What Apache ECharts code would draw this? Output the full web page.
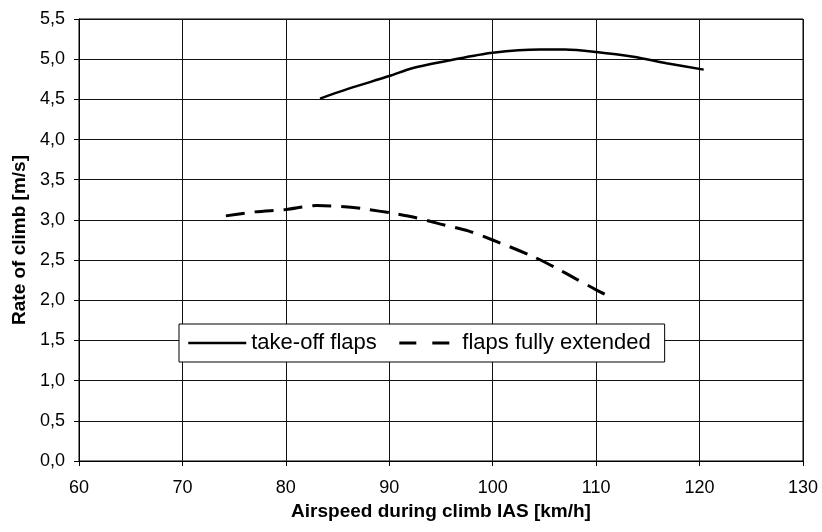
<!DOCTYPE html>
<html>
<head>
<meta charset="utf-8">
<script src="https://cdn.jsdelivr.net/npm/echarts@6/dist/echarts.min.js"></script>
<style>
  html, body { margin: 0; padding: 0; background: #fff; }
  #chart { width: 822px; height: 532px; }
</style>
</head>
<body>
<div id="chart"></div>
<script>
// airspeed [km/h] and rate of climb [m/s]
const takeoffSpeed = [83.3, 86, 90, 92.3, 96, 100, 104.6, 107, 110, 113.6, 116.8, 120.4];
const takeoffClimb = [4.51, 4.63, 4.79, 4.89, 4.99, 5.08, 5.12, 5.12, 5.09, 5.03, 4.95, 4.87];

const extendedSpeed = [74.2, 77, 80, 83, 86, 88, 90, 92.5, 94.6, 97.7, 100, 103.8, 106, 108, 110, 111.1];
const extendedClimb = [3.05, 3.10, 3.13, 3.18, 3.16, 3.13, 3.09, 3.03, 2.96, 2.86, 2.75, 2.55, 2.41, 2.27, 2.13, 2.06];

const seriesNames = ['take-off flaps', 'flaps fully extended'];

// pair up x and y
function zip(xs, ys) {
  return xs.map((x, i) => [x, ys[i]]);
}

const chart = echarts.init(document.getElementById('chart'), null, { renderer: 'canvas' });

const tickFont = { fontFamily: 'Liberation Sans', fontSize: 18, color: '#000' };
const titleFont = { fontFamily: 'Liberation Sans', fontSize: 19, fontWeight: 'bold', color: '#000' };
const gridLine = { lineStyle: { color: '#111', width: 1 } };

chart.setOption({
  backgroundColor: '#fff',
  animation: false,
  grid: {
    left: 79,
    right: 19,
    top: 19,
    bottom: 71,
    show: true,
    borderColor: '#000',
    borderWidth: 1
  },
  legend: {
    left: 179,
    top: 324,
    orient: 'horizontal',
    padding: [8, 14, 8, 8],
    backgroundColor: '#fff',
    borderColor: '#000',
    borderWidth: 1,
    borderRadius: 0,
    itemWidth: 58,
    itemHeight: 22,
    itemGap: 21,
    textStyle: { fontFamily: 'Liberation Sans', fontSize: 22, color: '#000' },
    data: [
      { name: seriesNames[0], itemStyle: { opacity: 0 }, lineStyle: { width: 2.5, type: 'solid' } },
      { name: seriesNames[1], itemStyle: { opacity: 0 }, lineStyle: { width: 3, type: [17, 16] } }
    ]
  },
  xAxis: {
    type: 'value',
    min: 60,
    max: 130,
    interval: 10,
    name: 'Airspeed during climb IAS [km/h]',
    nameLocation: 'middle',
    nameGap: 35,
    nameTextStyle: titleFont,
    axisLine: { show: true, lineStyle: { color: '#000', width: 1 } },
    axisTick: { show: true, inside: false, length: 5, lineStyle: { color: '#000' } },
    axisLabel: Object.assign({ margin: 18 }, tickFont),
    splitLine: Object.assign({ show: true }, gridLine)
  },
  yAxis: {
    type: 'value',
    min: 0,
    max: 5.5,
    interval: 0.5,
    name: 'Rate of climb [m/s]',
    nameLocation: 'middle',
    nameGap: 50,
    nameTextStyle: titleFont,
    axisLine: { show: true, lineStyle: { color: '#000', width: 1 } },
    axisTick: { show: true, inside: false, length: 5, lineStyle: { color: '#000' } },
    axisLabel: Object.assign({
      margin: 14,
      formatter: (v) => v.toFixed(1).replace('.', ',')
    }, tickFont),
    splitLine: Object.assign({ show: true }, gridLine)
  },
  series: [
    {
      name: seriesNames[0],
      type: 'line',
      data: zip(takeoffSpeed, takeoffClimb),
      smooth: 0.3,
      symbol: 'none',
      lineStyle: { color: '#000', width: 2.5, type: 'solid' },
      itemStyle: { color: '#000' }
    },
    {
      name: seriesNames[1],
      type: 'line',
      data: zip(extendedSpeed, extendedClimb),
      smooth: 0.3,
      symbol: 'none',
      lineStyle: { color: '#000', width: 3, type: [19, 10] },
      itemStyle: { color: '#000' }
    }
  ]
});
</script>
</body>
</html>
